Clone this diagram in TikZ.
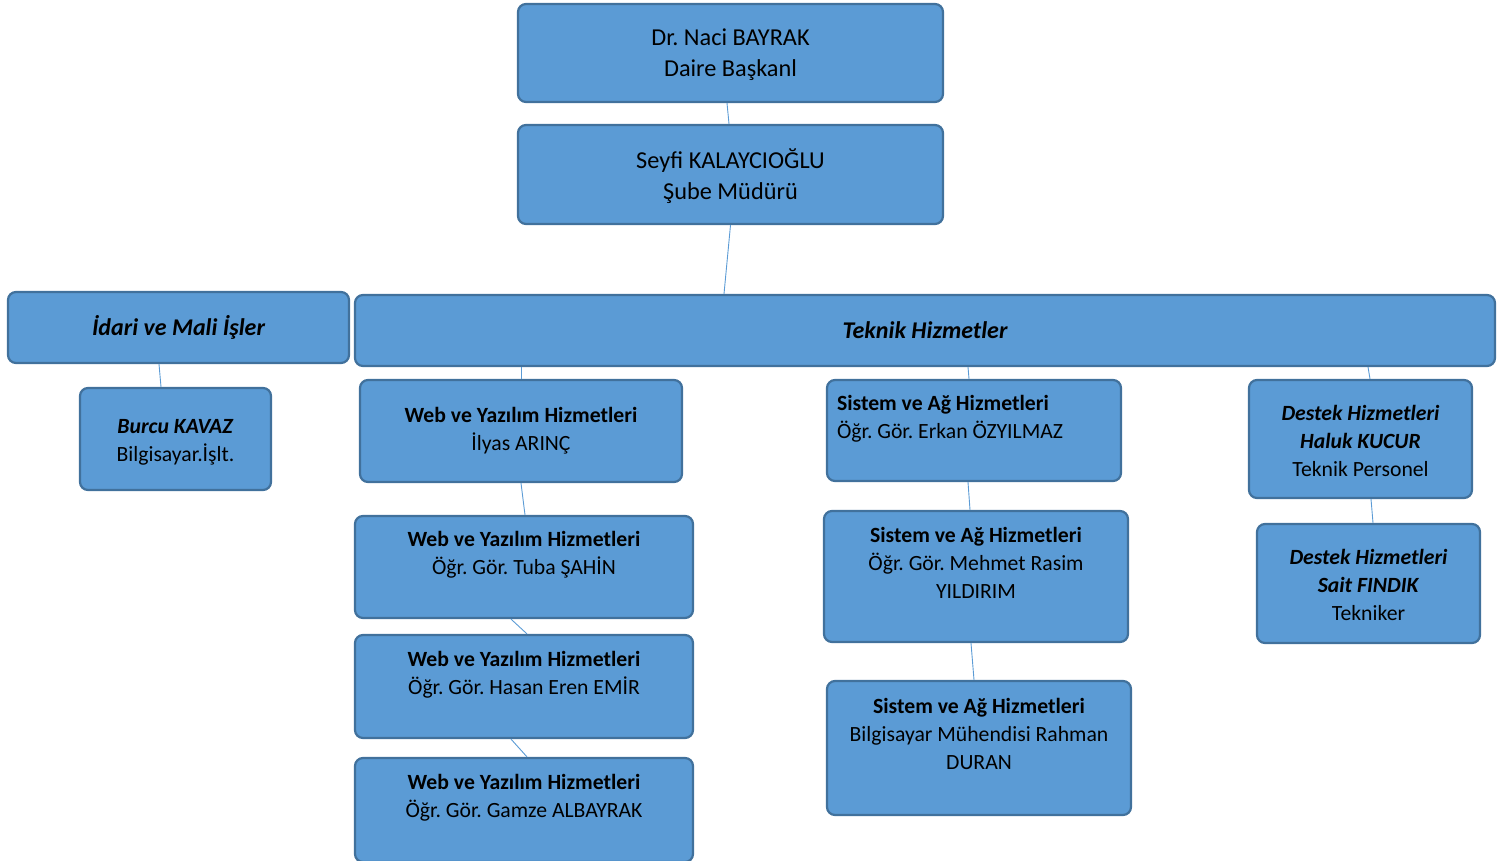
\documentclass[tikz,border=0pt]{standalone}
\usepackage{xcolor}
\usepackage{tikz}
\usepackage{fontspec}
\setmainfont{Carlito}
\frenchspacing
\definecolor{c1}{HTML}{5B9BD5}
\definecolor{c2}{HTML}{41719C}

\begin{document}
\begin{tikzpicture}[x=1pt, y=-1pt,
    kutu/.style={draw=c2, fill=c1, line width=2.2pt, rounded corners=8pt, align=center,
        font=\fontsize{21.7}{28}\selectfont, inner sep=4pt},
    ust/.style={kutu, font=\fontsize{24.3}{31}\selectfont},
    baslik/.style={kutu, font=\fontsize{24}{28}\selectfont\bfseries\itshape},
    hat/.style={draw=c1, line width=0.9pt}]
            \useasboundingbox (0, 0) rectangle (1504, 861);
            % ust kademe
            \node[ust, minimum width=425pt, minimum height=98pt] (daire) at (730.5, 53) {\rule{0pt}{21pt}Dr. Naci BAYRAK\\Daire Başkanl};
            \node[ust, minimum width=425pt, minimum height=99pt] (sube) at (730.5, 174.5) {\rule{0pt}{23pt}Seyfi KALAYCIOĞLU\\Şube Müdürü};
            % birimler
            \node[baslik, minimum width=341pt, minimum height=71pt] (idari) at (178.5, 327.5) {İdari ve Mali İşler};
            \node[baslik, minimum width=1140pt, minimum height=71pt] (teknik) at (925, 330.5) {Teknik Hizmetler};
            \node[kutu, minimum width=191pt, minimum height=102pt] (burcu) at (175.5, 439) {\rule{0pt}{21pt}\textbf{\textit{Burcu KAVAZ}}\\Bilgisayar.İşlt.};
            % web
            \node[kutu, minimum width=322pt, minimum height=102pt] (web1) at (521, 431) {\textbf{Web ve Yazılım Hizmetleri}\\İlyas ARINÇ};
            \node[kutu, minimum width=338pt, minimum height=102pt] (web2) at (524, 567) {\textbf{Web ve Yazılım Hizmetleri}\\Öğr. Gör. Tuba ŞAHİN\\\mbox{}};
            \node[kutu, minimum width=338pt, minimum height=103pt] (web3) at (524, 686.5) {\textbf{Web ve Yazılım Hizmetleri}\\Öğr. Gör. Hasan Eren EMİR\\\mbox{}};
            \node[kutu, minimum width=338pt, minimum height=104pt] (web4) at (524, 810) {\textbf{Web ve Yazılım Hizmetleri}\\Öğr. Gör. Gamze ALBAYRAK\\\mbox{}};
            % sistem
            \node[kutu, align=flush left, text width=274pt, inner xsep=10pt, minimum height=101pt] (sis1) at (974, 430.5) {\textbf{Sistem ve Ağ Hizmetleri}\\Öğr. Gör. Erkan ÖZYILMAZ\\\mbox{}};
            \node[kutu, minimum width=304pt, minimum height=131pt] (sis2) at (976, 576.5) {\textbf{Sistem ve Ağ Hizmetleri}\\Öğr. Gör. Mehmet Rasim\\YILDIRIM\\\mbox{}};
            \node[kutu, minimum width=304pt, minimum height=134pt] (sis3) at (979, 748) {\textbf{Sistem ve Ağ Hizmetleri}\\Bilgisayar Mühendisi Rahman\\DURAN\\\mbox{}};
            % destek
            \node[kutu, minimum width=223pt, minimum height=118pt] (des1) at (1360.5, 439) {\rule{0pt}{19pt}\textbf{\textit{Destek Hizmetleri}}\\\textbf{\textit{Haluk KUCUR}}\\Teknik Personel};
            \node[kutu, minimum width=223pt, minimum height=119pt] (des2) at (1368.5, 583.5) {\rule{0pt}{19pt}\textbf{\textit{Destek Hizmetleri}}\\\textbf{\textit{Sait FINDIK}}\\Tekniker};
            % baglantilar
            \draw[hat] ([xshift=-3.5pt]daire.south) -- ([xshift=-1.5pt]sube.north);
            \draw[hat] (sube.south) -- ([xshift=-6.5pt]sube.south |- teknik.north);
            \draw[hat] ([xshift=-16.5pt]burcu.north |- idari.south) -- ([xshift=-14.5pt]burcu.north);
            \draw[hat] (web1.north |- teknik.south) -- (web1.north);
            \draw[hat] (web1.south) -- ([xshift=1pt]web2.north);
            \draw[hat] ([xshift=-13pt]web2.south) -- ([xshift=3pt]web3.north);
            \draw[hat] ([xshift=-13pt]web3.south) -- ([xshift=3pt]web4.north);
            \draw[hat] ([xshift=-6pt]sis1.north |- teknik.south) -- ([xshift=-5pt]sis1.north);
            \draw[hat] ([xshift=-6pt]sis1.south) -- ([xshift=-6pt]sis2.north);
            \draw[hat] ([xshift=-5pt]sis2.south) -- ([xshift=-5pt]sis3.north);
            \draw[hat] ([xshift=7.5pt]des1.north |- teknik.south) -- ([xshift=9.5pt]des1.north);
            \draw[hat] ([xshift=10.5pt]des1.south) -- ([xshift=4.5pt]des2.north);
        \end{tikzpicture}
\end{document}
